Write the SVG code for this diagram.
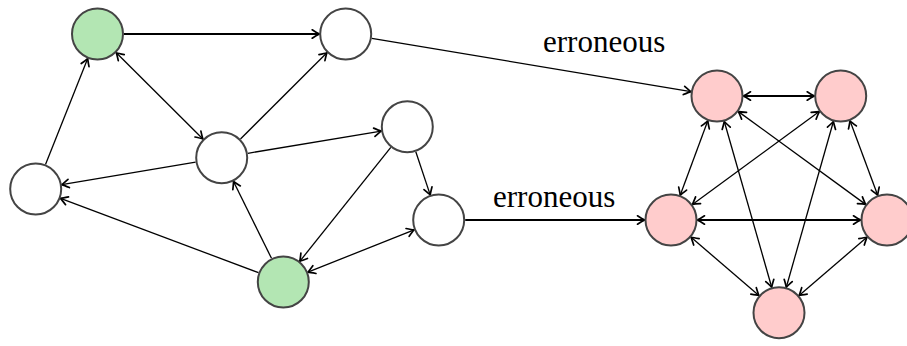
<svg xmlns="http://www.w3.org/2000/svg" width="907" height="346" viewBox="0 0 907 346">
<style>
.n{stroke:#444;stroke-width:2}
.w{fill:#fff}
.g{fill:#b3e6b3}
.p{fill:#ffcccc}
.e{stroke:#000;stroke-width:1.3;fill:none;marker-end:url(#ah)}
.h{stroke-width:1.8}
.b{marker-start:url(#ahs)}
.t{font-family:"Liberation Serif","Times New Roman",serif;font-size:31px;fill:#000}
</style>
<defs>
<marker id="ah" markerUnits="userSpaceOnUse" markerWidth="12" markerHeight="12" refX="0" refY="0" orient="auto" overflow="visible">
<path d="M-7,-4.2 Q-2,-1 0,0 Q-2,1 -7,4.2" fill="none" stroke="#000" stroke-width="1.7" stroke-linecap="round"/>
</marker>
<marker id="ahs" markerUnits="userSpaceOnUse" markerWidth="12" markerHeight="12" refX="0" refY="0" orient="auto-start-reverse" overflow="visible">
<path d="M-7,-4.2 Q-2,-1 0,0 Q-2,1 -7,4.2" fill="none" stroke="#000" stroke-width="1.7" stroke-linecap="round"/>
</marker>
</defs>
<g id="connectors">
<line class="e h" x1="124" y1="34" x2="319.2" y2="34"/>
<line class="e b" x1="116.3" y1="52.7" x2="202.9" y2="139"/>
<line class="e" x1="45.5" y1="164.4" x2="87.7" y2="58.6"/>
<line class="e" x1="240.5" y1="139" x2="326.9" y2="52.7"/>
<line class="e" x1="247.8" y1="153.3" x2="381.2" y2="131.1"/>
<line class="e" x1="195.6" y1="162.1" x2="61.8" y2="184.6"/>
<line class="e" x1="271.5" y1="258.3" x2="233.5" y2="181.5"/>
<line class="e" x1="258.5" y1="272.7" x2="60.5" y2="198.3"/>
<line class="e" x1="390.8" y1="147.4" x2="299.8" y2="261.3"/>
<line class="e" x1="415.8" y1="151.8" x2="430.2" y2="194.9"/>
<line class="e b" x1="307.9" y1="272.2" x2="414.1" y2="229.8"/>
<line class="e" x1="371.8" y1="38.4" x2="690.9" y2="91.6"/>
<line class="e h" x1="465.2" y1="220" x2="644.5" y2="220"/>
<line class="e b h" x1="743.5" y1="96" x2="814.2" y2="96"/>
<line class="e b" x1="707.8" y1="120.8" x2="680.2" y2="195.2"/>
<line class="e b" x1="738.4" y1="111.6" x2="865.6" y2="204.4"/>
<line class="e b" x1="724.3" y1="121.5" x2="771.7" y2="287.2"/>
<line class="e b" x1="819.3" y1="111.6" x2="692.4" y2="204.4"/>
<line class="e b" x1="850" y1="120.8" x2="877.7" y2="195.2"/>
<line class="e b" x1="833.4" y1="121.5" x2="786.3" y2="287.2"/>
<line class="e b h" x1="697.5" y1="220" x2="860.5" y2="220"/>
<line class="e b" x1="691.1" y1="237.3" x2="758.9" y2="295.4"/>
<line class="e b" x1="866.9" y1="237.3" x2="799.1" y2="295.4"/>
<text class="t" x="543" y="52">erroneous</text>
<text class="t" x="493" y="207">erroneous</text>
</g>
<g id="g1"><circle class="n g" cx="97.5" cy="34" r="25.5"/></g>
<g id="w1"><circle class="n w" cx="345.7" cy="34" r="25.5"/></g>
<g id="w2"><circle class="n w" cx="221.7" cy="157.7" r="25.5"/></g>
<g id="w3"><circle class="n w" cx="407.3" cy="126.7" r="25.5"/></g>
<g id="w4"><circle class="n w" cx="35.7" cy="189" r="25.5"/></g>
<g id="w5"><circle class="n w" cx="438.7" cy="220" r="25.5"/></g>
<g id="g2"><circle class="n g" cx="283.3" cy="282" r="25.5"/></g>
<g id="p1"><circle class="n p" cx="717" cy="96" r="25.5"/></g>
<g id="p2"><circle class="n p" cx="840.7" cy="96" r="25.5"/></g>
<g id="p3"><circle class="n p" cx="671" cy="220" r="25.5"/></g>
<g id="p4"><circle class="n p" cx="887" cy="220" r="25.5"/></g>
<g id="p5"><circle class="n p" cx="779" cy="312.7" r="25.5"/></g>
</svg>
